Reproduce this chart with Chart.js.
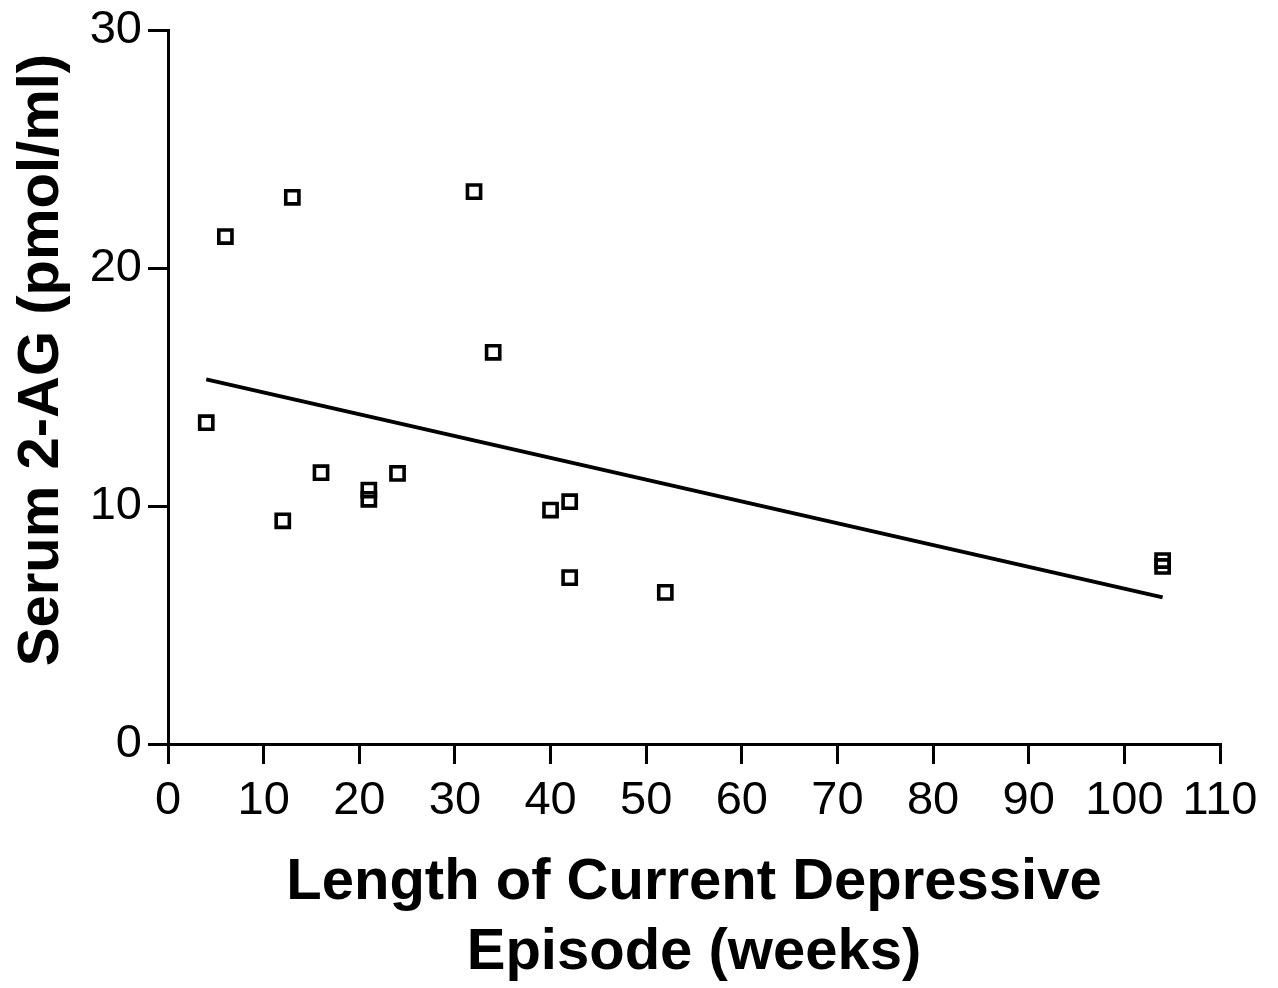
<!DOCTYPE html>
<html>
<head>
<meta charset="utf-8">
<script src="https://cdn.jsdelivr.net/npm/chart.js@4/dist/chart.umd.min.js"></script>
<style>
  html, body { margin: 0; padding: 0; background: #fff; }
  #wrap { width: 1278px; height: 988px; }
</style>
</head>
<body>
<div id="wrap"><canvas id="scatterChart" width="1278" height="988"></canvas></div>
<script>
// weeks of current episode vs serum 2-AG
const episodeWeeks = [4, 6, 13, 12, 16, 21, 21, 24, 32, 34, 40, 42, 42, 52, 104, 104];
const serum2AG = [13.5, 21.32, 22.97, 9.38, 11.4, 10.67, 10.28, 11.37, 23.21, 16.46, 9.83, 10.18, 6.99, 6.37, 7.71, 7.46];

// fitted line end points
const fitWeeks = [4, 104];
const fitValues = [15.32, 6.16];

const xTicks = [0, 10, 20, 30, 40, 50, 60, 70, 80, 90, 100, 110];
const yTicks = [0, 10, 20, 30];

const xTitle = ["Length of Current Depressive", "Episode (weeks)"];
const yTitle = "Serum 2-AG (pmol/ml)";

document.addEventListener("DOMContentLoaded", () => {
  const ctx = document.getElementById("scatterChart").getContext("2d");
  const fontFamily = "'Liberation Sans', Arial, sans-serif";

  const points = episodeWeeks.map((w, i) => ({ x: w, y: serum2AG[i] }));
  const fit = fitWeeks.map((w, i) => ({ x: w, y: fitValues[i] }));

  const axisGrid = {
    drawOnChartArea: false,
    drawTicks: true,
    tickLength: 20,
    color: "#000",
    lineWidth: 3,
  };

  // y title sits a little above the axis middle in the original
  const yTitlePlugin = {
    id: "yTitle",
    afterDraw(chart) {
      const c = chart.ctx;
      const area = chart.chartArea;
      c.save();
      c.translate(42, (area.top + area.bottom) / 2 - 27);
      c.rotate(-Math.PI / 2);
      c.font = "bold 58px " + fontFamily;
      c.fillStyle = "#000";
      c.textAlign = "center";
      c.textBaseline = "middle";
      c.fillText(yTitle, 0, 0);
      c.restore();
    },
  };

  new Chart(ctx, {
    type: "scatter",
    data: {
      datasets: [
        {
          label: "Serum 2-AG",
          data: points,
          pointStyle: "rect",
          pointRadius: 9.3,
          pointHoverRadius: 9.3,
          borderColor: "#000",
          backgroundColor: "rgba(0,0,0,0)",
          pointBorderWidth: 3.6,
        },
        {
          type: "line",
          label: "Fit",
          data: fit,
          borderColor: "#000",
          borderWidth: 4,
          pointRadius: 0,
          fill: false,
        },
      ],
    },
    options: {
      responsive: false,
      animation: false,
      layout: { padding: { top: 30, right: 58, left: 0, bottom: 0 } },
      plugins: {
        legend: { display: false },
        tooltip: { enabled: false },
      },
      scales: {
        x: {
          type: "linear",
          min: 0,
          max: 110,
          afterBuildTicks: (scale) => {
            scale.ticks = xTicks.map((v) => ({ value: v }));
          },
          afterFit: (scale) => {
            scale.height = 244;
          },
          grid: axisGrid,
          border: { color: "#000", width: 3 },
          ticks: {
            color: "#000",
            padding: 9,
            maxRotation: 0,
            font: { family: fontFamily, size: 47 },
          },
          title: {
            display: true,
            text: xTitle,
            color: "#000",
            padding: { top: 0, bottom: 0 },
            font: { family: fontFamily, size: 58, weight: "bold", lineHeight: 1.21 },
          },
        },
        y: {
          type: "linear",
          min: 0,
          max: 30,
          afterBuildTicks: (scale) => {
            scale.ticks = yTicks.map((v) => ({ value: v }));
          },
          afterFit: (scale) => {
            scale.width = 168;
          },
          grid: axisGrid,
          border: { color: "#000", width: 3 },
          ticks: {
            color: "#000",
            padding: 6,
            font: { family: fontFamily, size: 47, lineHeight: 1.0 },
          },
          title: { display: false },
        },
      },
    },
    plugins: [yTitlePlugin],
  });
});
</script>
</body>
</html>
